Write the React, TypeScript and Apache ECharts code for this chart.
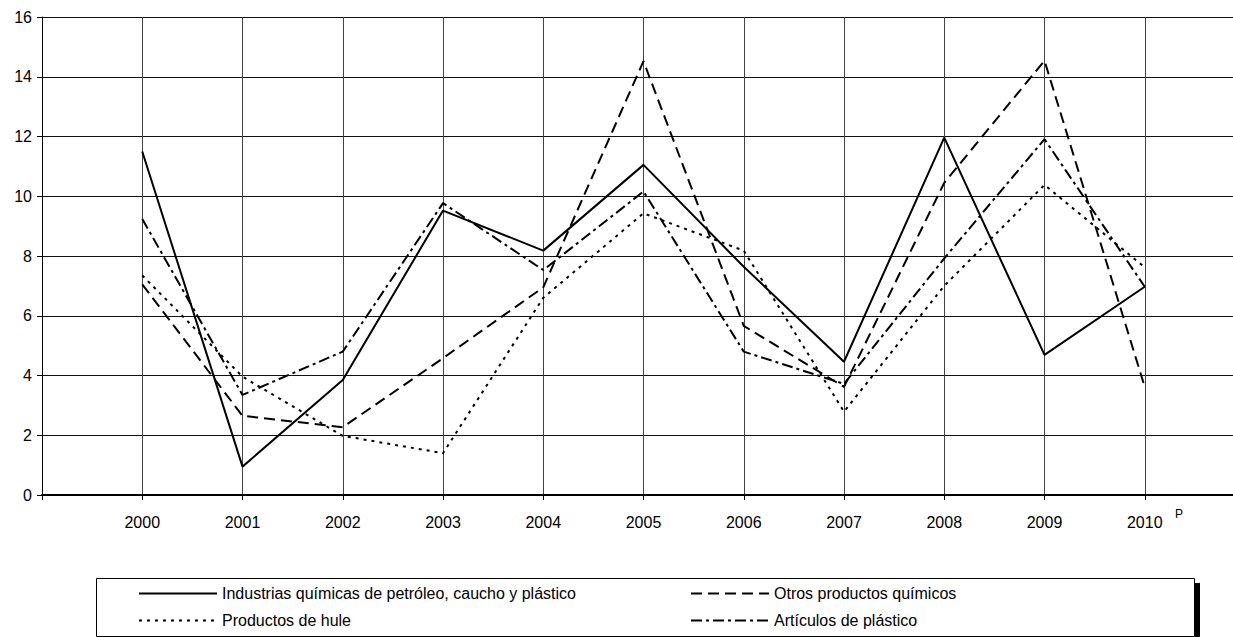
import React, { useEffect, useRef } from "react";
import * as echarts from "echarts";

const years = [2000, 2001, 2002, 2003, 2004, 2005, 2006, 2007, 2008, 2009, 2010];
const seriesNames = [
  "Industrias químicas de petróleo, caucho y plástico",
  "Otros productos químicos",
  "Productos de hule",
  "Artículos de plástico",
];
const industrias = [11.5, 0.95, 3.85, 9.52, 8.18, 11.05, 7.64, 4.46, 11.96, 4.69, 6.97];
const otros = [7.05, 2.65, 2.27, 4.58, 6.95, 14.52, 5.66, 3.62, 10.45, 14.54, 3.62];
const hule = [7.35, 3.96, 1.98, 1.4, 6.6, 9.43, 8.18, 2.79, 7.0, 10.38, 7.62];
const plastico = [9.24, 3.35, 4.8, 9.77, 7.53, 10.16, 4.8, 3.72, 7.92, 11.91, 6.97];
const yTicks = { min: 0, max: 16, interval: 2 };

const FONT = "'Liberation Sans', Arial, sans-serif";

export default function App() {
  const ref = useRef<HTMLDivElement>(null);
  useEffect(() => {
    if (!ref.current) return;
    const chart = echarts.init(ref.current, undefined, { renderer: "svg" });
    const mk = (vals: number[]) => years.map((y, i) => [y, vals[i]]);
    const dashTypes: any[] = ["solid", [11, 6], [3, 5], [11, 4, 3, 4]];
    const allVals = [industrias, otros, hule, plastico];
    chart.setOption({
      animation: false,
      backgroundColor: "#fff",
      textStyle: { fontFamily: FONT },
      grid: { left: 42, top: 17, width: 1203, height: 478, outerBoundsMode: "none", containLabel: false },
      xAxis: {
        type: "value",
        min: 1999,
        max: 2011,
        interval: 1,
        axisLine: { show: true, onZero: false, lineStyle: { color: "#000", width: 2 } },
        axisTick: { show: true, inside: false, length: 5, lineStyle: { color: "#000" } },
        axisLabel: {
          color: "#000",
          fontSize: 16,
          fontFamily: FONT,
          margin: 19,
          formatter: (v: number) => (v >= 2000 && v <= 2010 ? String(v) : ""),
        },
        splitLine: { show: true, lineStyle: { color: "#444", width: 1 } },
      },
      yAxis: {
        type: "value",
        min: yTicks.min,
        max: yTicks.max,
        interval: yTicks.interval,
        axisLine: { show: true, lineStyle: { color: "#000", width: 1 } },
        axisTick: { show: true, length: 5, lineStyle: { color: "#000" } },
        axisLabel: { color: "#000", fontSize: 16, fontFamily: FONT, margin: 10 },
        splitLine: { show: true, lineStyle: { color: "#111", width: 1 } },
      },
      legend: {
        left: 138,
        top: 580,
        padding: 0,
        itemGap: 0,
        itemWidth: 78,
        itemHeight: 14,
        width: 1150,
        data: seriesNames,
        itemStyle: { opacity: 0 },
        textStyle: {
          color: "#000",
          fontSize: 16,
          fontFamily: FONT,
          width: 468,
          lineHeight: 27,
          overflow: "none",
        },
      },
      graphic: [
        {
          type: "rect",
          shape: { x: 96.5, y: 578.5, width: 1098, height: 58 },
          style: { fill: "none", stroke: "#000", lineWidth: 1 },
          z: -1,
        },
        {
          type: "rect",
          shape: { x: 1195, y: 583, width: 5, height: 54 },
          style: { fill: "#000" },
        },
        {
          type: "text",
          x: 1175,
          y: 508,
          style: { text: "P", fontSize: 12, fill: "#000", fontFamily: FONT },
        },
      ],
      series: seriesNames.map((name, i) => ({
        name,
        type: "line",
        data: mk(allVals[i]),
        symbol: "none",
        color: "#000",
        lineStyle: { color: "#000", width: 2, type: dashTypes[i] },
      })),
    });
    return () => chart.dispose();
  }, []);
  return (
    <div
      ref={ref}
      style={{ position: "fixed", left: 0, top: 0, width: 1233, height: 637 }}
    />
  );
}
